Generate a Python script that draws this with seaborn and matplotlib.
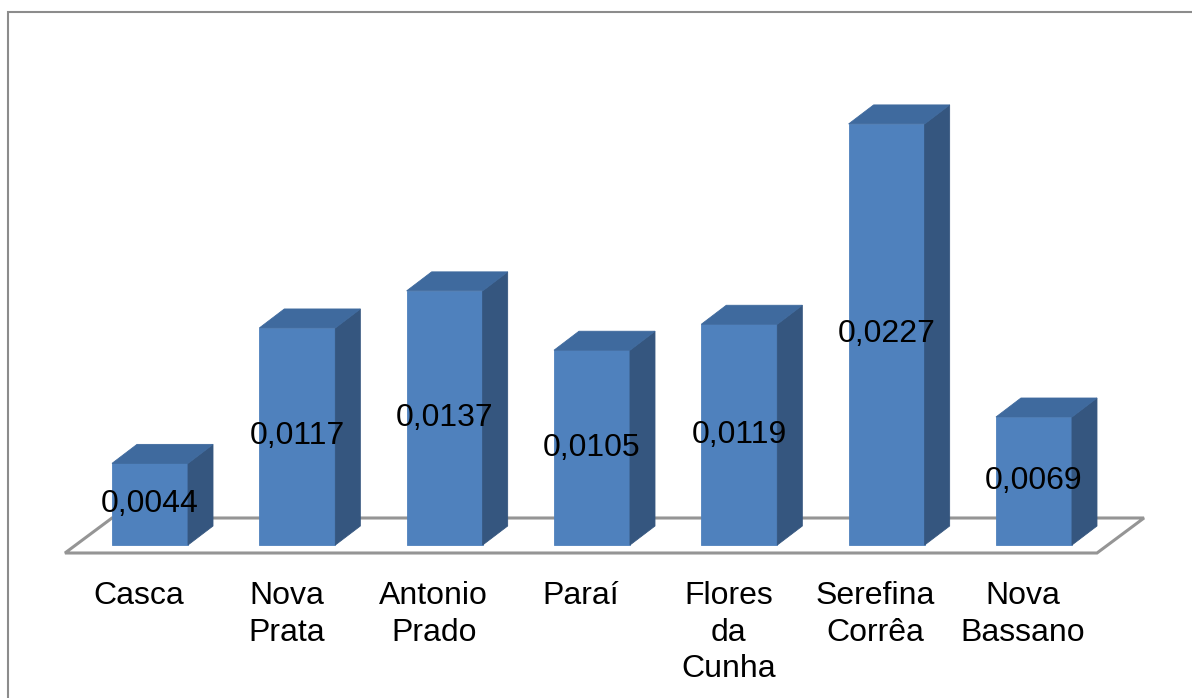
import matplotlib
matplotlib.use("Agg")
import matplotlib.pyplot as plt
import seaborn as sns
import numpy as np
from matplotlib.patches import Polygon, Rectangle

categories = ["Casca", "Nova\nPrata", "Antonio\nPrado", "Paraí", "Flores\nda\nCunha", "Serefina\nCorrêa", "Nova\nBassano"]
values = [0.0044, 0.0117, 0.0137, 0.0105, 0.0119, 0.0227, 0.0069]
value_labels = ["0,0044", "0,0117", "0,0137", "0,0105", "0,0119", "0,0227", "0,0069"]

sns.set_theme(style="white")
plt.rcParams['font.family'] = ['Liberation Sans', 'DejaVu Sans']

W, H = 1192, 698
fig = plt.figure(figsize=(W / 100, H / 100), dpi=100)
ax = fig.add_axes([0, 0, 1, 1])

px_x = 147.33      # pixels per category unit
px_y = 18550.0     # pixels per value unit
x0_pix = 150.0     # pixel of category 0 centre
y0_pix = 698 - 545  # pixel (from bottom) of value 0

xmin = -x0_pix / px_x
xmax = xmin + W / px_x
ymin = -y0_pix / px_y
ymax = ymin + H / px_y

front = "#4F81BD"
top_c = "#3F6A9E"
side_c = "#35567F"

sns.barplot(x=list(range(len(values))), y=values, width=76 / px_x, color=front,
            saturation=1, ax=ax, zorder=3, linewidth=0)

ax.set_xlim(xmin, xmax)
ax.set_ylim(ymin, ymax)
ax.set_axis_off()

# floor
fx0, fx1 = (65 - x0_pix) / px_x, (1097 - x0_pix) / px_x
fdx, fdy = 47 / px_x, 35 / px_y
fy = -8 / px_y
floor = Polygon([(fx0, fy), (fx1, fy), (fx1 + fdx, fy + fdy), (fx0 + fdx, fy + fdy)],
                closed=True, facecolor="white", edgecolor="#959595", linewidth=2.2, zorder=1)
ax.add_patch(floor)

# 3D faces
ddx, ddy = 25 / px_x, 19 / px_y
for p in list(ax.patches):
    if p is floor:
        continue
    p.set_edgecolor(front)
    p.set_linewidth(0.6)
    x = p.get_x(); w = p.get_width(); h = p.get_height(); y = p.get_y()
    side = Polygon([(x + w, y), (x + w + ddx, y + ddy), (x + w + ddx, y + h + ddy), (x + w, y + h)],
                   closed=True, facecolor=side_c, edgecolor=side_c, linewidth=0.6, zorder=3)
    top = Polygon([(x, y + h), (x + w, y + h), (x + w + ddx, y + h + ddy), (x + ddx, y + h + ddy)],
                  closed=True, facecolor=top_c, edgecolor=top_c, linewidth=0.6, zorder=3)
    ax.add_patch(side)
    ax.add_patch(top)

for i, (v, lab) in enumerate(zip(values, value_labels)):
    ax.text(i, v / 2, lab, ha="center", va="center", fontsize=23, color="black", zorder=5)

for i, c in enumerate(categories):
    ax.text(i - 11 / px_x, -36 / px_y, c, ha="center", va="top", fontsize=23,
            color="black", linespacing=1.29, zorder=5)

fig.patches.append(Rectangle((8 / W, -0.02), 1.2, 1 - 12 / H + 0.02, transform=fig.transFigure,
                             fill=False, edgecolor="#8C8C8C", linewidth=1.5, figure=fig))

fig.savefig("out.png", dpi=100)
